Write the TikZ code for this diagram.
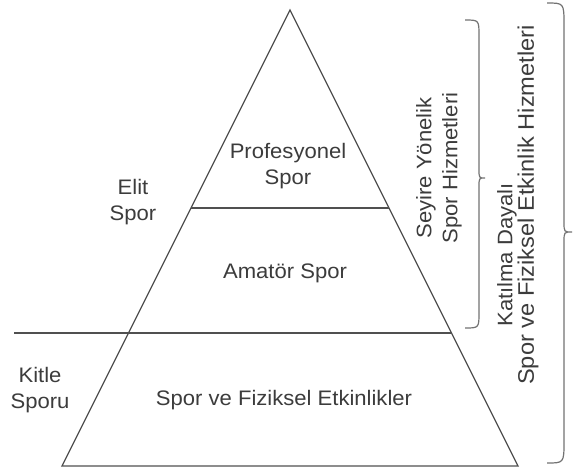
\documentclass[tikz,border=0pt]{standalone}
\usepackage{fontspec}
\setmainfont{Liberation Sans}[FakeStretch=1.05]
\definecolor{linegray}{HTML}{505050}
\definecolor{textgray}{HTML}{3C3C3C}
\newcommand\mybrace[8]{% x0 x1 x2 yt yb ym r r2
  \draw[bracestyle] (#1,#4) .. controls (#2,#4) .. (#2,#4+#7) -- (#2,#6-#8)
    .. controls (#2,#6) .. (#3,#6) .. controls (#2,#6) .. (#2,#6+#8)
    -- (#2,#5-#7) .. controls (#2,#5) .. (#1,#5);}
\begin{document}
\begin{tikzpicture}[x=1pt,y=-1pt,
  pyr/.style={draw=linegray,line width=1.3pt,line join=miter},
  sep/.style={draw=linegray,line width=1.3pt},
  bracestyle/.style={draw=linegray!80,line width=1.2pt},
  lbl/.style={text=textgray,align=center,inner sep=0pt,
    font=\fontsize{21}{26}\selectfont}]
\useasboundingbox (0,0) rectangle (577,472);
\fill[white] (0,0) rectangle (577,472);
% pyramid
\coordinate (apex) at (290,10);
\coordinate (bl) at (62,466);
\coordinate (br) at (518,466);
\coordinate (l1a) at (191,208);
\coordinate (l1b) at (389,208);
\coordinate (l2a) at (14,333);
\coordinate (l2b) at (451.5,333);
\draw[pyr] (apex) -- (bl) -- (br) -- cycle;
\draw[sep] (l1a) -- (l1b);
\draw[sep] (l2a) -- (l2b);
% labels
\node[lbl] (prof) at (288,166) {Profesyonel\\Spor};
\node[lbl] (amat) at (285,273) {Amatör Spor};
\node[lbl] (fiz) at (284,400) {Spor ve Fiziksel Etkinlikler};
\node[lbl] (elit) at (133,202) {Elit\\Spor};
\node[lbl] (kitle) at (40,390) {Kitle\\Sporu};
\node[lbl,rotate=90] (seyire) at (439,168) {Seyire Yönelik\\Spor Hizmetleri};
\node[lbl,rotate=90] (katilma) at (507,255) {Katılma Dayalı};
\node[lbl,rotate=90,font=\fontsize{22.5}{26}\selectfont] (spfiz) at (528,205) {Spor ve Fiziksel Etkinlik Hizmetleri};
% braces
\mybrace{465}{479}{485}{20}{328}{178}{16}{9}
\mybrace{547}{564}{572}{3}{463}{232}{22}{10}
\end{tikzpicture}
\end{document}
